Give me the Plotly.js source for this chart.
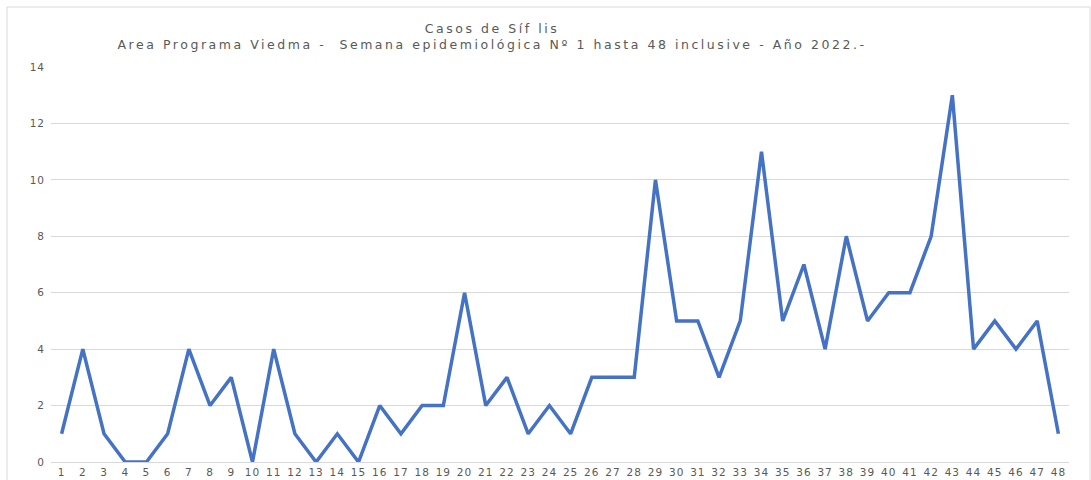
<!DOCTYPE html>
<html>
<head>
<meta charset="utf-8">
<script src="https://cdn.plot.ly/plotly-3.0.1.min.js"></script>
<style>
html,body{margin:0;padding:0;background:#fff;}
#chart{width:1091px;height:480px;}
#chart .annotation-text{letter-spacing:2.55px;}
#chart .xtick text, #chart .ytick text{letter-spacing:1px;}
</style>
</head>
<body>
<div id="chart"></div>
<script>
const semanas = ["1","2","3","4","5","6","7","8","9","10","11","12","13","14","15","16","17","18","19","20","21","22","23","24","25","26","27","28","29","30","31","32","33","34","35","36","37","38","39","40","41","42","43","44","45","46","47","48"];
const casos = [1,4,1,0,0,1,4,2,3,0,4,1,0,1,0,2,1,2,2,6,2,3,1,2,1,3,3,3,10,5,5,3,5,11,5,7,4,8,5,6,6,8,13,4,5,4,5,1];
const yTicks = [0,2,4,6,8,10,12,14];
const titleLine1 = "Casos de Síf lis";
const titleLine2 = "Area Programa Viedma -  Semana epidemiológica Nº 1 hasta 48 inclusive - Año 2022.-";

const trace = {
  x: semanas, y: casos, type: "scatter", mode: "lines",
  line: {color: "#4472C4", width: 3.5},
  hoverinfo: "x+y"
};
const W = 1091, H = 480, ml = 51, mr = 22, mt = 67, mb = 18;
const pw = W - ml - mr, ph = H - mt - mb;
const tfont = {family: "DejaVu Sans, sans-serif", size: 12.5, color: "#595959"};
const layout = {
  width: W, height: H,
  margin: {l: ml, r: mr, t: mt, b: mb, pad: 0},
  paper_bgcolor: "#fff", plot_bgcolor: "#fff",
  font: {family: "DejaVu Sans, sans-serif", color: "#595959"},
  showlegend: false,
  xaxis: {
    type: "category", range: [-0.5, semanas.length - 0.5],
    showgrid: false, zeroline: false,
    showline: true, linecolor: "#d9d9d9", linewidth: 1,
    ticks: "", tickfont: {size: 10.5, color: "#595959"},
    tickangle: 0, fixedrange: true
  },
  yaxis: {
    range: [0, 14], tickvals: yTicks, ticktext: yTicks.map(String),
    showgrid: true, gridcolor: "#d9d9d9", gridwidth: 1,
    zeroline: false, showline: false, ticks: "",
    ticklabelstandoff: 5,
    tickfont: {size: 10.5, color: "#595959"}, fixedrange: true
  },
  annotations: [
    {text: titleLine1 + "<br>" + titleLine2, xref: "paper", yref: "paper",
     x: (492 - ml) / pw, y: 1 + (mt - 36.5) / ph,
     xanchor: "center", yanchor: "middle", align: "center", showarrow: false, font: tfont}
  ],
  shapes: [{
    type: "rect", xref: "paper", yref: "paper",
    x0: (7 - ml) / pw, x1: (1090 - ml) / pw,
    y0: -(490 - (H - mb)) / ph, y1: 1 + (mt - 7) / ph,
    line: {color: "#d9d9d9", width: 1}, fillcolor: "rgba(0,0,0,0)", layer: "below"
  }]
};
Plotly.newPlot("chart", [trace], layout, {displayModeBar: false});
</script>
</body>
</html>
